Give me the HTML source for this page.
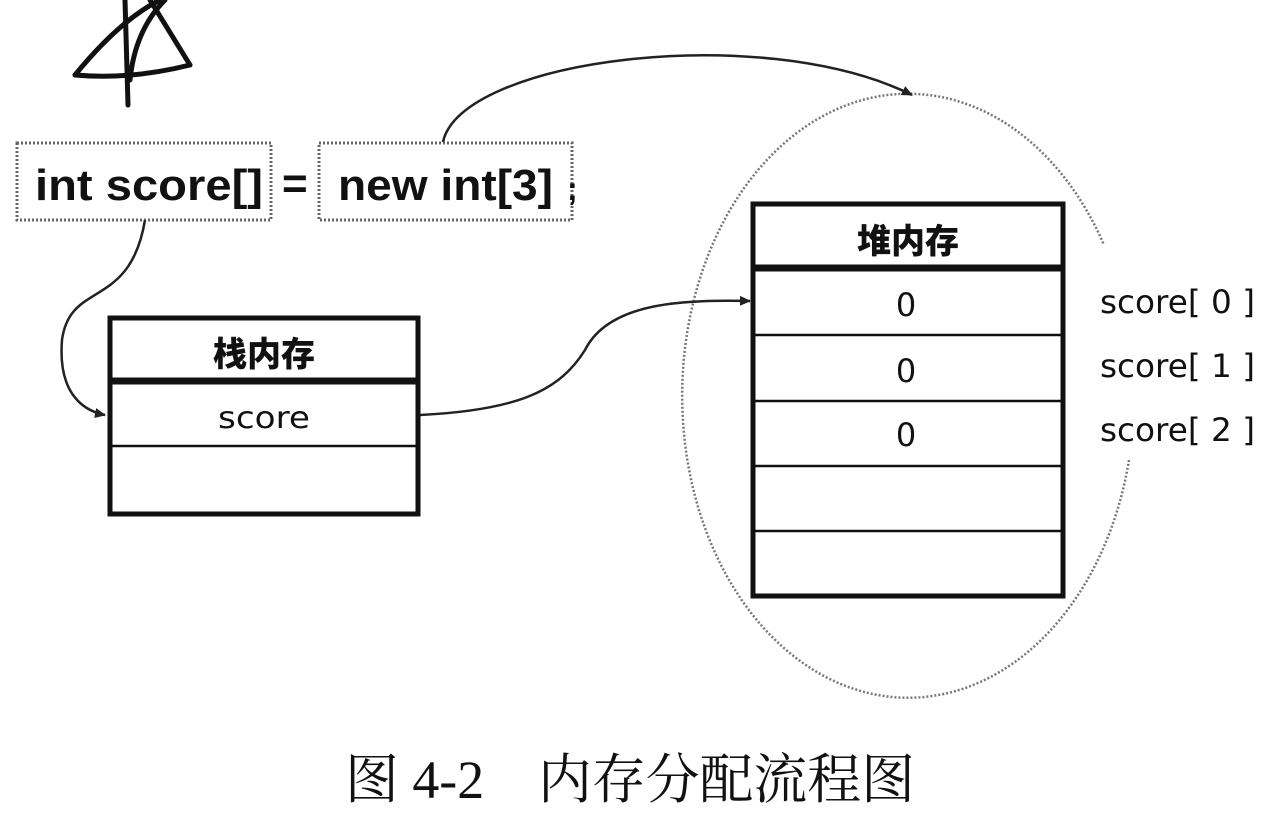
<!DOCTYPE html>
<html><head><meta charset="utf-8"><style>
html,body{margin:0;padding:0;background:#fff;}
svg{display:block}
</style></head><body>
<svg width="1280" height="817" viewBox="0 0 1280 817" xmlns="http://www.w3.org/2000/svg">
<defs>
<marker id="ar" markerWidth="12" markerHeight="12" refX="10" refY="6" orient="auto" markerUnits="userSpaceOnUse">
<path d="M0,1 L11,6 L0,11 z" fill="#222"/>
</marker>
</defs>
<g stroke="#111" stroke-width="5" fill="none" stroke-linecap="round">
<path d="M125,0 L128,105"/>
<path d="M75,75 Q120,20 160,0"/>
<path d="M75,75 Q130,80 190,65"/>
<path d="M190,65 L150,0"/>
<path d="M130,80 Q135,30 165,0"/>
</g>
<g fill="none" stroke="#666" stroke-width="3" stroke-dasharray="2,2">
<rect x="17" y="143" width="254" height="77"/>
<rect x="319" y="143" width="253" height="77"/>
</g>
<g font-family="Liberation Sans, sans-serif" font-size="44" font-weight="bold" fill="#111">
<text x="35" y="200" textLength="228" lengthAdjust="spacingAndGlyphs">int score[]</text>
<text x="282" y="198">=</text>
<text x="338" y="200" textLength="215" lengthAdjust="spacingAndGlyphs">new int[3]</text>
<text x="567" y="200" font-size="32">;</text>
</g>
<path d="M1129,460 A226,302 0 1 1 1104,245" fill="none" stroke="#777" stroke-width="2.5" stroke-dasharray="2,2"/>
<g fill="none" stroke="#222" stroke-width="2.5">
<path d="M443,142 C460,60 760,20 912,95" marker-end="url(#ar)"/>
<path d="M145,220 C130,310 70,280 62,340 C58,390 80,410 105,415" marker-end="url(#ar)"/>
<path d="M420,415 C520,410 560,390 585,350 C610,300 690,300 750,301" marker-end="url(#ar)"/>
</g>
<g fill="none" stroke="#111">
<rect x="110" y="318" width="308" height="196" stroke-width="5"/>
<line x1="110" y1="381" x2="418" y2="381" stroke-width="7"/>
<line x1="110" y1="446" x2="418" y2="446" stroke-width="2.5"/>
</g>
<text x="264" y="366" text-anchor="middle" font-family="'Noto Sans CJK SC', sans-serif" font-weight="900" font-size="34" fill="#111">栈内存</text>
<text x="264" y="428" text-anchor="middle" font-family="DejaVu Sans, sans-serif" font-size="30" fill="#111" textLength="92" lengthAdjust="spacingAndGlyphs">score</text>
<g fill="none" stroke="#111">
<rect x="753" y="204" width="310" height="392" stroke-width="5"/>
<line x1="753" y1="268" x2="1063" y2="268" stroke-width="7"/>
<line x1="753" y1="335" x2="1063" y2="335" stroke-width="2.5"/>
<line x1="753" y1="401" x2="1063" y2="401" stroke-width="2.5"/>
<line x1="753" y1="466" x2="1063" y2="466" stroke-width="2.5"/>
<line x1="753" y1="531" x2="1063" y2="531" stroke-width="2.5"/>
</g>
<text x="908" y="253" text-anchor="middle" font-family="'Noto Sans CJK SC', sans-serif" font-weight="900" font-size="34" fill="#111">堆内存</text>
<g font-family="DejaVu Sans, sans-serif" font-size="32" fill="#111">
<text x="906" y="316" text-anchor="middle">0</text>
<text x="906" y="382" text-anchor="middle">0</text>
<text x="906" y="446" text-anchor="middle">0</text>
<text x="1100" y="313" textLength="155" lengthAdjust="spacingAndGlyphs">score[ 0 ]</text>
<text x="1100" y="377" textLength="155" lengthAdjust="spacingAndGlyphs">score[ 1 ]</text>
<text x="1100" y="441" textLength="155" lengthAdjust="spacingAndGlyphs">score[ 2 ]</text>
</g>
<text x="345" y="798" font-family="Liberation Serif, 'Noto Serif CJK SC', serif" font-size="54" fill="#111" xml:space="preserve" textLength="570" lengthAdjust="spacingAndGlyphs">图 4-2    内存分配流程图</text>
</svg>
</body></html>
